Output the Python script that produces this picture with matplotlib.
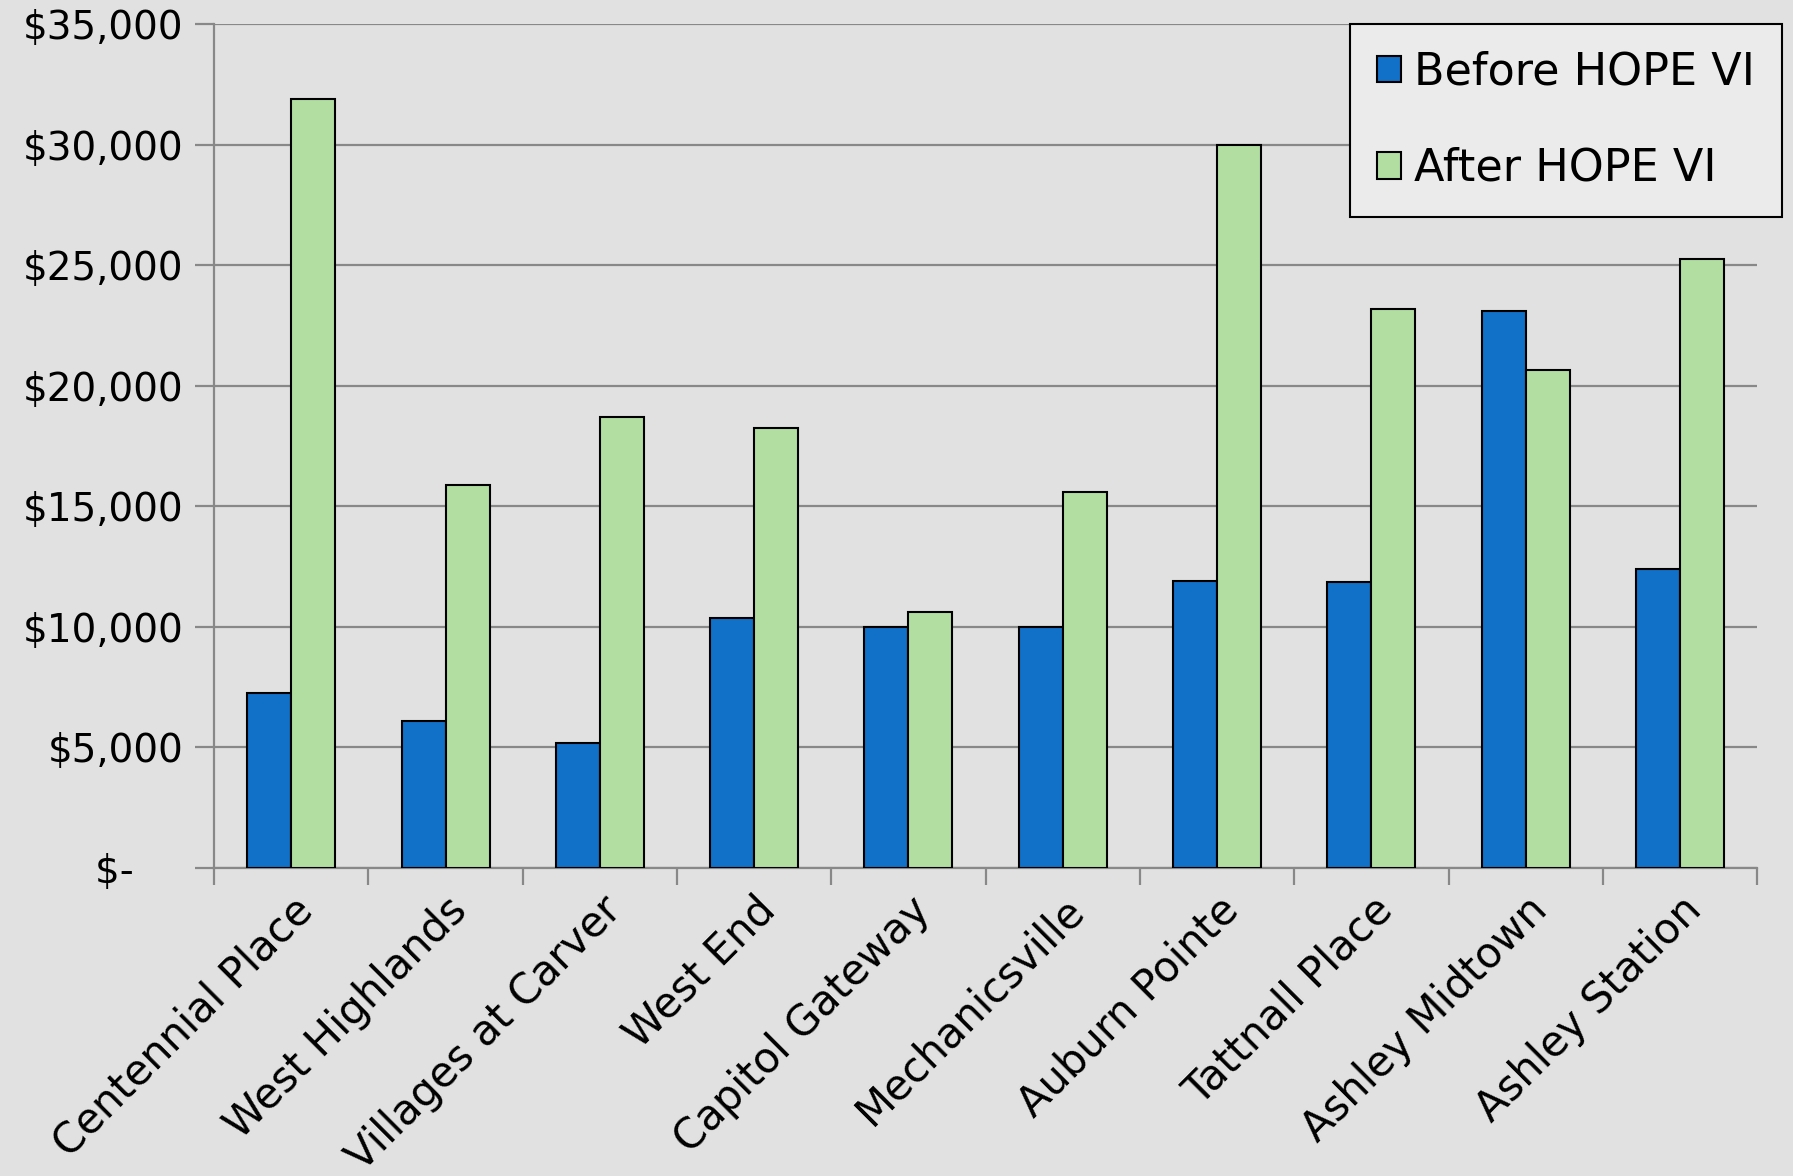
import numpy as np
import matplotlib.pyplot as plt
from matplotlib.ticker import FuncFormatter

# median household income by neighborhood, before / after HOPE VI
neighborhoods = ['Centennial Place', 'West Highlands', 'Villages at Carver', 'West End',
                 'Capitol Gateway', 'Mechanicsville', 'Auburn Pointe', 'Tattnall Place',
                 'Ashley Midtown', 'Ashley Station']
before = [7250, 6100, 5200, 10350, 10000, 10000, 11900, 11850, 23100, 12400]
after = [31900, 15900, 18700, 18250, 10600, 15600, 30000, 23200, 20650, 25250]
yticks = [0, 5000, 10000, 15000, 20000, 25000, 30000, 35000]

plt.rcParams['font.family'] = ['DejaVu Sans']

bg = '#e1e1e1'
fig = plt.figure(figsize=(17.93, 11.76), dpi=100, facecolor=bg)
ax = fig.add_axes([0.1194, 0.2619, 0.8606, 0.7177])
ax.set_facecolor(bg)

x = np.arange(len(neighborhoods))
w = 0.285
ax.bar(x - w / 2, before, w, color='#1170c8', edgecolor='black', linewidth=1.5,
       label='Before HOPE VI', zorder=3)
ax.bar(x + w / 2, after, w, color='#b2dfa1', edgecolor='black', linewidth=1.5,
       label='After HOPE VI', zorder=3)

ax.set_xlim(-0.5, len(neighborhoods) - 0.5)
ax.set_ylim(0, 35000)
ax.set_yticks(yticks)
ax.yaxis.set_major_formatter(FuncFormatter(
    lambda v, p: '$-    ' if v == 0 else '${:,.0f}'.format(v)))
ax.grid(axis='y', color='#888888', linewidth=1.6, zorder=0)

# category labels sit between boundary ticks
ax.set_xticks(x)
ax.set_xticklabels(neighborhoods, rotation=45, ha='right', va='top',
                   rotation_mode='anchor', fontsize=30)
ax.tick_params(axis='x', length=0, pad=15)
ax.set_xticks(np.arange(len(neighborhoods) + 1) - 0.5, minor=True)
ax.tick_params(axis='x', which='minor', length=12, width=1.6, color='#888888')
ax.tick_params(axis='y', length=14, width=1.6, color='#888888', labelsize=28, pad=8)

for s in ['top', 'right']:
    ax.spines[s].set_visible(False)
for s in ['left', 'bottom']:
    ax.spines[s].set_color('#888888')
    ax.spines[s].set_linewidth(1.6)

leg = ax.legend(loc='upper right', bbox_to_anchor=(1.016, 1.0), fontsize=32,
                frameon=True, fancybox=False, edgecolor='black', facecolor='#ebebeb',
                framealpha=1, handlelength=0.55, handleheight=0.55, handletextpad=0.3,
                labelspacing=1.2, borderpad=0.6, borderaxespad=0)
leg.get_frame().set_linewidth(1.5)

fig.savefig('out.png', dpi=100, facecolor=bg)
